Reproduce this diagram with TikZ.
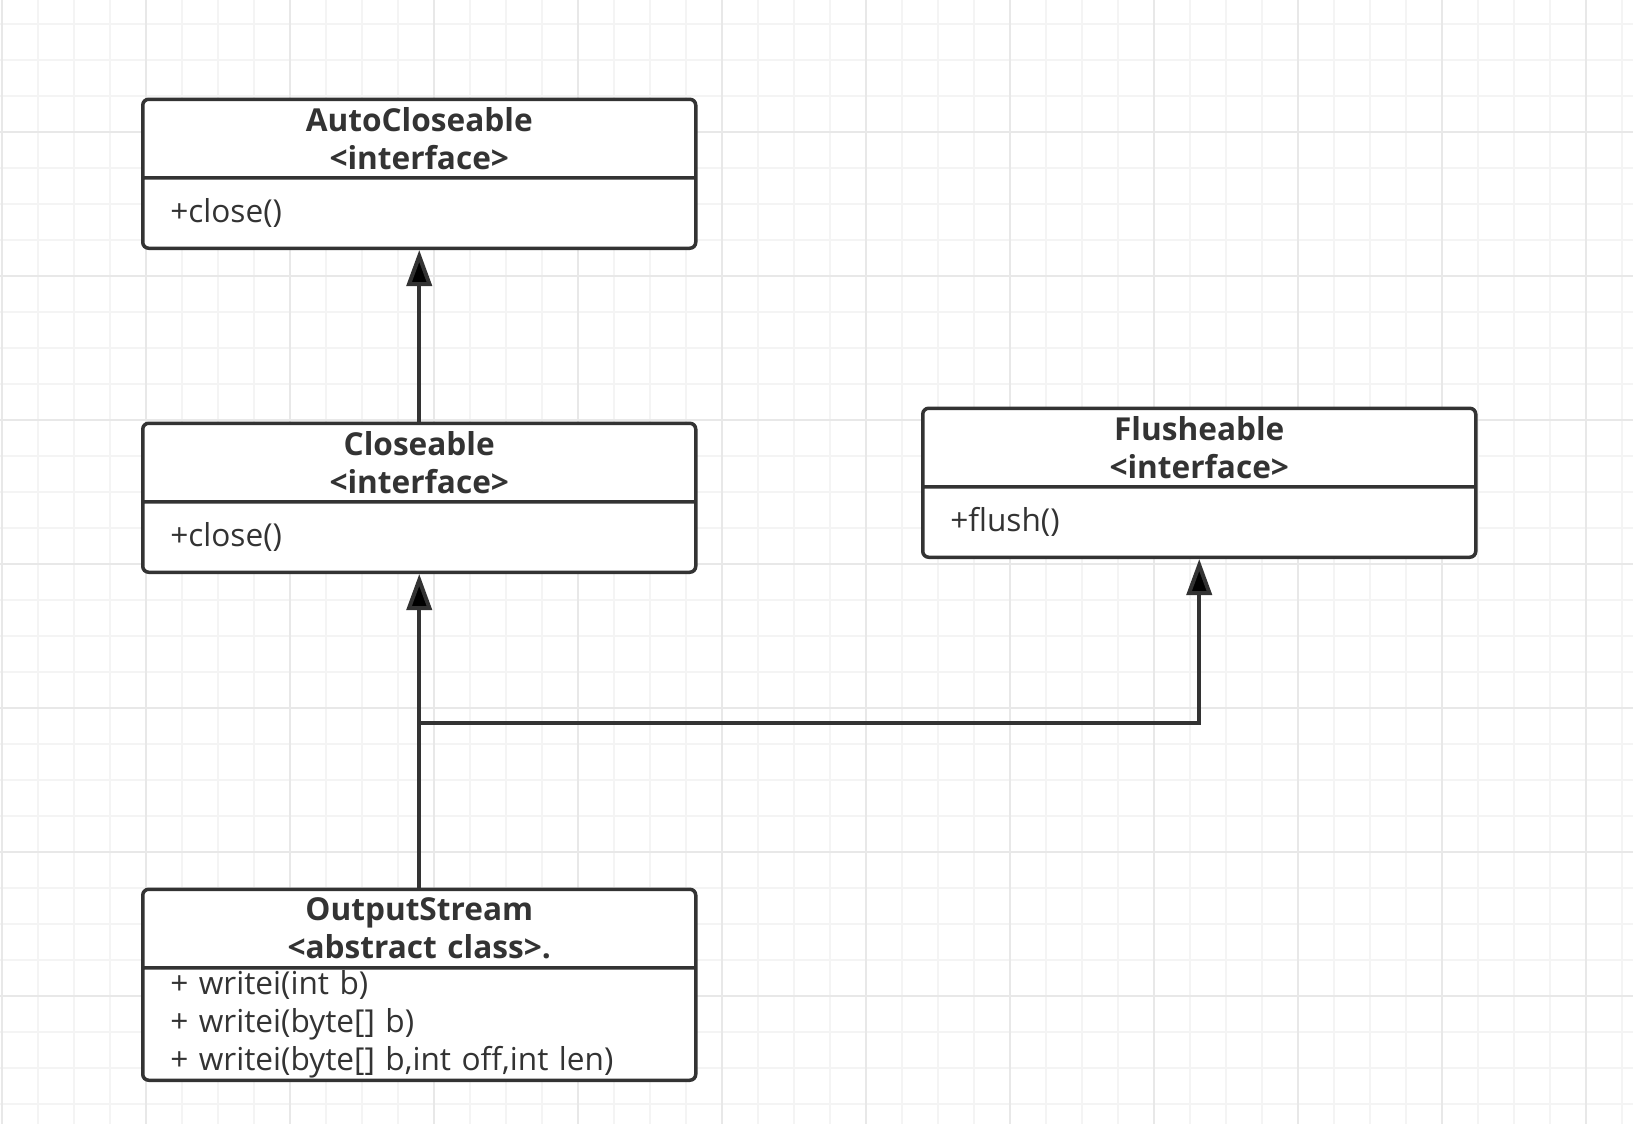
\documentclass[tikz,border=0pt]{standalone}
\usepackage{fontspec}
\setmainfont{Open Sans}
\usetikzlibrary{shapes.multipart,arrows.meta}
\definecolor{myink}{RGB}{51,51,51}
\definecolor{mygrid}{RGB}{244,244,244}
\definecolor{mygridmajor}{RGB}{232,232,232}
\newcommand{\umlhead}[1]{\parbox[c][37.5pt][c]{249pt}{\centering\bfseries #1}}
\newcommand{\umlbody}[2]{\parbox[c][#1][c]{249pt}{\raggedright #2}}

\begin{document}
\begin{tikzpicture}[
  x=0.5pt, y=-0.5pt,
  line width=1.75pt,
  umlclass/.style={
    draw=myink,
    fill=white,
    text=myink,
    rectangle split,
    rectangle split parts=2,
    rounded corners=3pt,
    text width=249pt,
    inner xsep=13.75pt,
    inner ysep=0pt,
    anchor=north west,
    font=\fontsize{15.8pt}{19pt}\selectfont
    },
  umlarrow/.style={
    draw=myink,
    line width=2pt,
    -{Triangle[length=18pt,width=12.5pt]}
  },
  minorgrid/.style={draw=mygrid, line width=1pt},
  majorgrid/.style={draw=mygridmajor, line width=1pt}
]

\useasboundingbox[fill=white] (0,0) rectangle (1633,1124);
\foreach \gx in {1.7,37.7,...,1633}
  \draw[minorgrid] (\gx,0) -- (\gx,1124);
\foreach \gy in {24,60,...,1124}
  \draw[minorgrid] (0,\gy) -- (1633,\gy);
\foreach \gx in {1.7,145.7,...,1633}
  \draw[majorgrid] (\gx,0) -- (\gx,1124);
\foreach \gy in {132,276,...,1124}
  \draw[majorgrid] (0,\gy) -- (1633,\gy);

\node[umlclass] (autoc) at (141,97.5)
  {
  \umlhead{AutoCloseable\\<interface>}
  \nodepart{two} \umlbody{33.5pt}{+close()}
  };
\node[umlclass] (closeable) at (141,421.5)
  {
  \umlhead{Closeable\\<interface>}
  \nodepart{two} \umlbody{33.5pt}{+close()}
  };
\node[umlclass] (flush) at (921,406.5)
  {
  \umlhead{Flusheable\\<interface>}
  \nodepart{two} \umlbody{33.5pt}{+flush()}
  };
\node[umlclass] (outs) at (141,887.5)
  {
  \umlhead{OutputStream\\<abstract class>.}
  \nodepart{two} \umlbody{54.5pt}{+ writei(int b)\\+ writei(byte[] b)\\+ writei(byte[] b,int off,int len)}
  };

\coordinate (level) at (0,723);
\coordinate (junction) at (outs.north |- level);
\draw[umlarrow] (closeable.north) -- (autoc.south);
\draw[umlarrow] (outs.north) -- (closeable.south);
\draw[umlarrow] (junction) -| (flush.south);

\end{tikzpicture}
\end{document}
